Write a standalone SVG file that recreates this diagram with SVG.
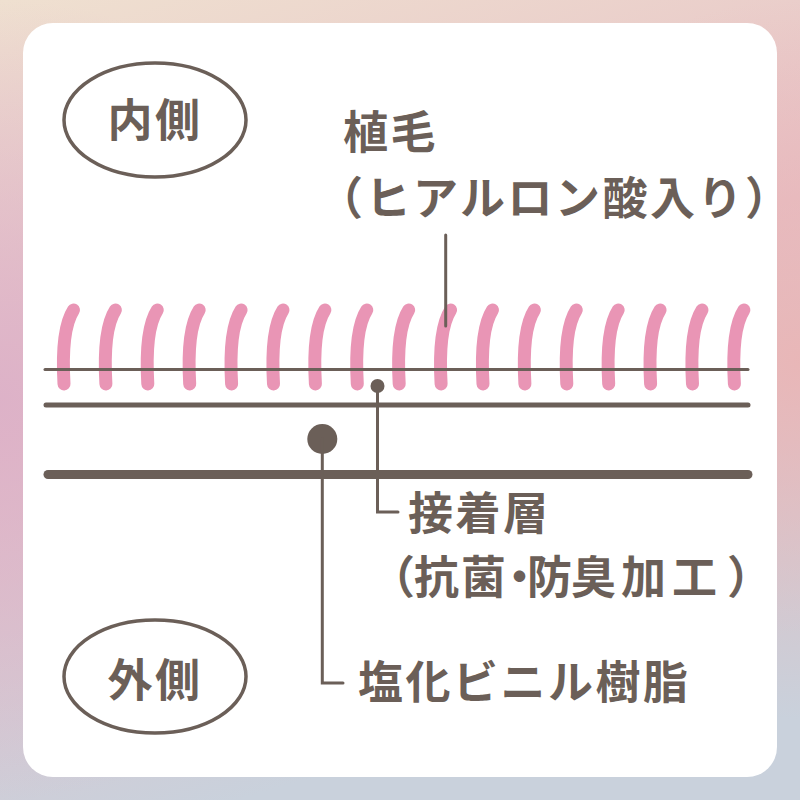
<svg xmlns="http://www.w3.org/2000/svg" width="800" height="800" viewBox="0 0 800 800">
<defs>
<linearGradient id="bg" x1="0" y1="0" x2="0.3" y2="1">
<stop offset="0" stop-color="#efe0d0"/>
<stop offset="0.5" stop-color="#e6bfc6"/>
<stop offset="1" stop-color="#c9d1dc"/>
</linearGradient>
<radialGradient id="lp" cx="0" cy="0.5" r="0.5">
<stop offset="0" stop-color="#dcb0c8" stop-opacity="0.9"/>
<stop offset="1" stop-color="#dcb0c8" stop-opacity="0"/>
</radialGradient>
<radialGradient id="rp" cx="1" cy="0.45" r="0.45">
<stop offset="0" stop-color="#eab5b5" stop-opacity="0.9"/>
<stop offset="1" stop-color="#eab5b5" stop-opacity="0"/>
</radialGradient>
<path id="fiber" d="M9.5,310 C3,320 -2.5,340 0,384"/>
</defs>
<style>
.t{font-family:"Noto Sans CJK JP","Noto Sans CJK SC",sans-serif;font-weight:700;fill:#6b5f58;font-size:45px;letter-spacing:2.5px}
.ln{stroke:#6b5f58;fill:none;stroke-linecap:round}
.fb{stroke:#e995b5;stroke-width:13;fill:none;stroke-linecap:round}
.el{fill:none;stroke:#6b5f58;stroke-width:3.5}
</style>
<rect width="800" height="800" fill="url(#bg)"/>
<rect width="800" height="800" fill="url(#lp)"/>
<rect width="800" height="800" fill="url(#rp)"/>
<rect x="23" y="23" width="754" height="754" rx="30" fill="#ffffff"/>

<g id="fibers">
<use href="#fiber" class="fb" x="64"/>
<use href="#fiber" class="fb" x="105.9"/>
<use href="#fiber" class="fb" x="147.8"/>
<use href="#fiber" class="fb" x="189.7"/>
<use href="#fiber" class="fb" x="231.6"/>
<use href="#fiber" class="fb" x="273.5"/>
<use href="#fiber" class="fb" x="315.4"/>
<use href="#fiber" class="fb" x="357.3"/>
<use href="#fiber" class="fb" x="399.2"/>
<use href="#fiber" class="fb" x="441.1"/>
<use href="#fiber" class="fb" x="483"/>
<use href="#fiber" class="fb" x="524.9"/>
<use href="#fiber" class="fb" x="566.8"/>
<use href="#fiber" class="fb" x="608.7"/>
<use href="#fiber" class="fb" x="650.6"/>
<use href="#fiber" class="fb" x="692.5"/>
<use href="#fiber" class="fb" x="734.4"/>
</g>

<g id="layers">
<line class="ln" x1="45" y1="369.5" x2="748" y2="369.5" stroke-width="3"/>
<line class="ln" x1="46" y1="405" x2="748" y2="405" stroke-width="5"/>
<line class="ln" x1="48" y1="474.5" x2="748" y2="474.5" stroke-width="9"/>
</g>

<g id="connectors">
<line class="ln" x1="445.7" y1="235" x2="445.7" y2="326" stroke-width="3"/>
<circle cx="377.5" cy="386" r="7" fill="#6b5f58"/>
<polyline class="ln" points="377.5,386 377.5,512 398,512" stroke-width="3" stroke-linecap="butt" stroke-linejoin="miter"/>
<circle cx="322.3" cy="439" r="15" fill="#6b5f58"/>
<polyline class="ln" points="322.3,439 322.3,683 343,683" stroke-width="3" stroke-linecap="butt" stroke-linejoin="miter"/>
</g>

<g id="inner">
<ellipse class="el" cx="155" cy="120" rx="91" ry="57"/>
<text class="t" x="155" y="137" text-anchor="middle">内側</text>
</g>
<g id="outer">
<ellipse class="el" cx="155" cy="676.5" rx="91" ry="56.5"/>
<text class="t" x="155" y="697" text-anchor="middle">外側</text>
</g>

<g id="label-fiber">
<text class="t" x="343" y="149">植毛</text>
<text class="t" x="318" y="215">（ヒアルロン酸入り）</text>
</g>
<g id="label-adhesive">
<text class="t" x="408" y="530">接着層</text>
<text class="t" x="370 414 461 497 527 571 621 672 727" y="594" style="letter-spacing:0">（抗菌・防臭加工）</text>
</g>
<g id="label-pvc">
<text class="t" x="358" y="699">塩化ビニル樹脂</text>
</g>
</svg>
